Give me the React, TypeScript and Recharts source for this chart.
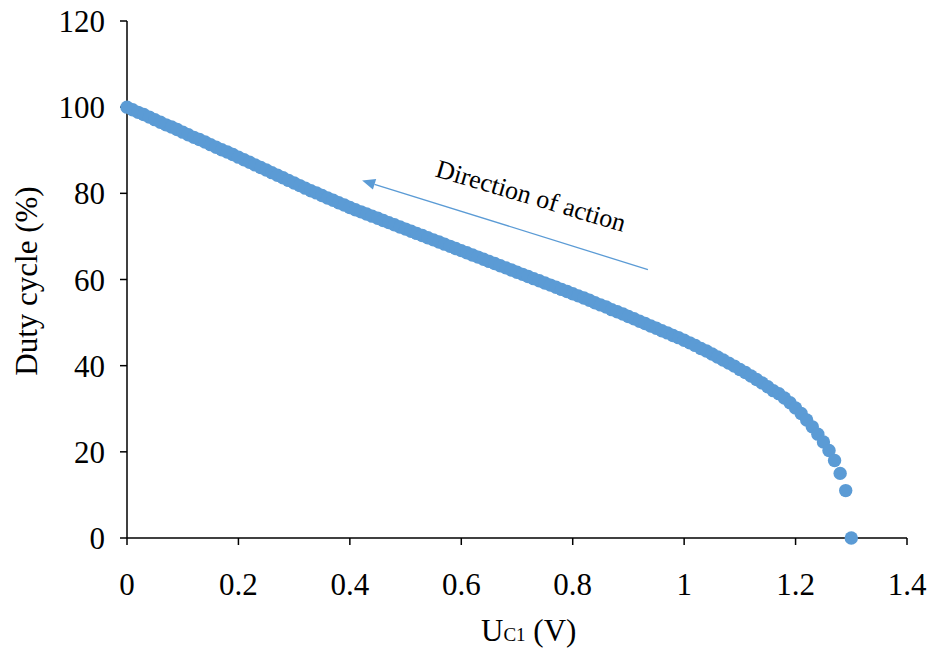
import { ScatterChart, Scatter, XAxis, YAxis, ReferenceLine } from 'recharts';

const uc1 = [
    0.00, 0.01, 0.02, 0.03, 0.04, 0.05, 0.06, 0.07, 0.08, 0.09,
    0.10, 0.11, 0.12, 0.13, 0.14, 0.15, 0.16, 0.17, 0.18, 0.19,
    0.20, 0.21, 0.22, 0.23, 0.24, 0.25, 0.26, 0.27, 0.28, 0.29,
    0.30, 0.31, 0.32, 0.33, 0.34, 0.35, 0.36, 0.37, 0.38, 0.39,
    0.40, 0.41, 0.42, 0.43, 0.44, 0.45, 0.46, 0.47, 0.48, 0.49,
    0.50, 0.51, 0.52, 0.53, 0.54, 0.55, 0.56, 0.57, 0.58, 0.59,
    0.60, 0.61, 0.62, 0.63, 0.64, 0.65, 0.66, 0.67, 0.68, 0.69,
    0.70, 0.71, 0.72, 0.73, 0.74, 0.75, 0.76, 0.77, 0.78, 0.79,
    0.80, 0.81, 0.82, 0.83, 0.84, 0.85, 0.86, 0.87, 0.88, 0.89,
    0.90, 0.91, 0.92, 0.93, 0.94, 0.95, 0.96, 0.97, 0.98, 0.99,
    1.00, 1.01, 1.02, 1.03, 1.04, 1.05, 1.06, 1.07, 1.08, 1.09,
    1.10, 1.11, 1.12, 1.13, 1.14, 1.15, 1.16, 1.17, 1.18, 1.19,
    1.20, 1.21, 1.22, 1.23, 1.24, 1.25, 1.26, 1.27, 1.28, 1.29,
    1.30,
];

const dutyCycle = [
    100.0, 99.4, 98.8, 98.3, 97.7, 97.1, 96.5, 95.9, 95.4, 94.8,
    94.2, 93.6, 93.0, 92.5, 91.9, 91.3, 90.7, 90.1, 89.6, 89.0,
    88.4, 87.8, 87.2, 86.6, 86.0, 85.4, 84.8, 84.2, 83.6, 83.0,
    82.4, 81.8, 81.2, 80.6, 80.1, 79.5, 78.9, 78.4, 77.8, 77.3,
    76.7, 76.2, 75.7, 75.2, 74.7, 74.2, 73.7, 73.2, 72.7, 72.2,
    71.7, 71.2, 70.7, 70.2, 69.7, 69.2, 68.7, 68.2, 67.7, 67.2,
    66.7, 66.2, 65.7, 65.2, 64.7, 64.2, 63.7, 63.2, 62.7, 62.2,
    61.7, 61.2, 60.7, 60.2, 59.7, 59.2, 58.7, 58.2, 57.7, 57.2,
    56.7, 56.2, 55.7, 55.2, 54.6, 54.1, 53.6, 53.0, 52.5, 52.0,
    51.4, 50.9, 50.3, 49.8, 49.2, 48.7, 48.1, 47.6, 47.0, 46.5,
    45.9, 45.3, 44.7, 44.0, 43.4, 42.7, 42.0, 41.3, 40.6, 39.9,
    39.1, 38.4, 37.6, 36.8, 36.0, 35.1, 34.2, 33.5, 32.5, 31.4,
    30.2, 28.9, 27.4, 25.8, 24.1, 22.3, 20.3, 18.0, 15.0, 11.0,
    0.0,
];

const xTicks = [0, 0.2, 0.4, 0.6, 0.8, 1, 1.2, 1.4];
const yTicks = [0, 20, 40, 60, 80, 100, 120];

// arrow "Direction of action": tip, then tail
const arrowTip = { x: 0.422, y: 83.0 };
const arrowTail = { x: 0.935, y: 62.3 };

const data = uc1.map((u, i) => ({ u, d: dutyCycle[i] }));

const FONT = '"Liberation Serif", "Times New Roman", serif';
const BLUE = '#5B9BD5';

const Dot = (props: any) => <circle cx={props.cx} cy={props.cy} r={6.7} fill={BLUE} />;

const Arrow = (props: any) => {
    const { x1, y1, x2, y2 } = props;
    const len = Math.hypot(x2 - x1, y2 - y1);
    const dx = (x2 - x1) / len;
    const dy = (y2 - y1) / len;
    const nx = dy;
    const ny = -dx;
    const head = 13;
    const half = 5.5;
    const bx = x1 + dx * head;
    const by = y1 + dy * head;
    const tx = x1 + dx * len * 0.554 + nx * 27;
    const ty = y1 + dy * len * 0.554 + ny * 27;
    return (
        <g>
            <line x1={bx} y1={by} x2={x2} y2={y2} stroke={BLUE} strokeWidth={1.3} />
            <polygon
                points={`${x1},${y1} ${bx + nx * half},${by + ny * half} ${bx - nx * half},${by - ny * half}`}
                fill={BLUE}
            />
            <text
                x={tx}
                y={ty}
                textAnchor="middle"
                fontFamily={FONT}
                fontSize={26}
                fill="#000"
                transform={`rotate(16.5, ${tx}, ${ty})`}
            >
                Direction of action
            </text>
        </g>
    );
};

const XLabel = () => (
    <text x={481} y={641} fontFamily={FONT} fontSize={31} fill="#000">
        <tspan>U</tspan>
        <tspan fontSize={19}>C1</tspan>
        <tspan> (V)</tspan>
    </text>
);

const YLabel = () => (
    <text
        x={37}
        y={281}
        textAnchor="middle"
        fontFamily={FONT}
        fontSize={31}
        fill="#000"
        transform="rotate(-90, 37, 281)"
    >
        Duty cycle (%)
    </text>
);

export default function App() {
    return (
        <div style={{ position: 'fixed', left: 0, top: 0, width: 933, height: 649, background: '#fff' }}>
            <ScatterChart width={933} height={649} margin={{ top: 21, right: 26, left: 0, bottom: 0 }}>
                <XAxis
                    type="number"
                    dataKey="u"
                    domain={[0, 1.4]}
                    ticks={xTicks}
                    height={111}
                    axisLine={{ stroke: '#000', strokeWidth: 1.5 }}
                    tickLine={{ stroke: '#000', strokeWidth: 1.5 }}
                    tickSize={7}
                    tickMargin={28}
                    tick={{ fill: '#000', fontSize: 31, fontFamily: FONT }}
                    label={<XLabel />}
                />
                <YAxis
                    type="number"
                    dataKey="d"
                    domain={[0, 120]}
                    ticks={yTicks}
                    width={127}
                    axisLine={{ stroke: '#000', strokeWidth: 1.5 }}
                    tickLine={{ stroke: '#000', strokeWidth: 1.5 }}
                    tickSize={7}
                    tickMargin={15}
                    tick={{ fill: '#000', fontSize: 31, fontFamily: FONT }}
                    label={<YLabel />}
                />
                <Scatter data={data} shape={<Dot />} isAnimationActive={false} />
                <ReferenceLine segment={[arrowTip, arrowTail]} shape={<Arrow />} />
            </ScatterChart>
        </div>
    );
}
